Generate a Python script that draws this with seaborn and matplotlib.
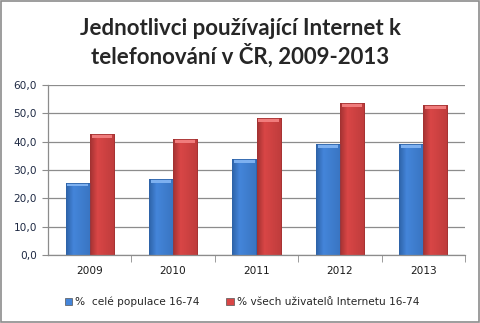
import matplotlib
matplotlib.use("Agg")
import matplotlib.pyplot as plt
import seaborn as sns
import pandas as pd
import numpy as np
from matplotlib.patches import Rectangle
from matplotlib.ticker import MultipleLocator, FixedLocator
from matplotlib.colors import to_rgb

years = ["2009", "2010", "2011", "2012", "2013"]
series_names = ["%  celé populace 16-74", "% všech uživatelů Internetu 16-74"]
pop_values = [25.5, 26.7, 33.8, 39.1, 39.1]
users_values = [42.6, 40.8, 48.2, 53.5, 52.8]
title = "Jednotlivci používající Internet k\ntelefonování v ČR, 2009-2013"

df = pd.DataFrame({
    "year": years * 2,
    "series": [series_names[0]] * len(years) + [series_names[1]] * len(years),
    "value": pop_values + users_values,
})

sns.set_style("white")
plt.rcParams["font.family"] = ["DejaVu Sans"]

fig = plt.figure(figsize=(4.81, 3.23), dpi=100)
ax = fig.add_axes([48 / 481, 1 - 255 / 323, (465 - 48) / 481, (255 - 85) / 323])

base_cols = ["#4485DA", "#D94646"]
dark_cols = ["#2E63A8", "#A33232"]
light_cols = ["#7DB0F0", "#F07C7C"]
palette = dict(zip(series_names, base_cols))
sns.barplot(data=df, x="year", y="value", hue="series", order=years,
            hue_order=series_names, palette=palette, width=0.58, gap=0,
            saturation=1, ax=ax, legend=True, edgecolor="none")

# bevel-like shading inside each bar
for i, cont in enumerate(ax.containers):
    d = np.array(to_rgb(dark_cols[i]))
    b = np.array(to_rgb(base_cols[i]))
    t = np.linspace(0, 1, 40)
    prof = np.where(t < 0.3, t / 0.3, 1 - 0.5 * (t - 0.3) / 0.7)
    grad = d[None, :] + (b - d)[None, :] * prof[:, None]
    img = np.tile(grad[None, :, :], (2, 1, 1))
    for bar in cont:
        x0, w, h = bar.get_x(), bar.get_width(), bar.get_height()
        im = ax.imshow(img, extent=(x0, x0 + w, 0, h), aspect="auto",
                       zorder=bar.get_zorder() + 0.1, interpolation="bilinear")
        im.set_clip_path(bar)
        cap_h = 1.2
        ax.add_patch(Rectangle((x0 + w * 0.08, h - cap_h), w * 0.84, cap_h,
                               facecolor=light_cols[i], edgecolor="none",
                               zorder=bar.get_zorder() + 0.2))
        bar.set_edgecolor(dark_cols[i])
        bar.set_linewidth(0.6)
        bar.set_zorder(bar.get_zorder() + 0.3)
        bar.set_facecolor("none")

ax.set_ylim(0, 60)
ax.set_xlim(-0.5, 4.5)
ax.yaxis.set_major_locator(MultipleLocator(10))
ax.set_yticklabels([f"{v:.1f}".replace(".", ",") for v in ax.get_yticks()])
ax.grid(axis="y", color="#8C8C8C", linewidth=0.9)
ax.set_axisbelow(True)
ax.set_xlabel("")
ax.set_ylabel("")

for s in ["top", "right"]:
    ax.spines[s].set_visible(False)
for s in ["left", "bottom"]:
    ax.spines[s].set_color("#8C8C8C")
    ax.spines[s].set_linewidth(0.9)

ax.tick_params(axis="y", which="major", length=4, color="#8C8C8C", labelsize=7.6,
               labelcolor="#1F2A44", pad=4, left=True)
ax.tick_params(axis="x", which="major", length=0, labelsize=7.6, labelcolor="#1A1A1A", pad=8)
ax.xaxis.set_minor_locator(FixedLocator([0.5, 1.5, 2.5, 3.5, 4.5]))
ax.tick_params(axis="x", which="minor", length=5, color="#8C8C8C", bottom=True)

leg = ax.legend(loc="center", frameon=False,
                ncol=2, fontsize=7.6, handlelength=0.7, handleheight=0.7,
                handletextpad=0.3, columnspacing=2.5)
leg.set_bbox_to_anchor((242 / 481, 1 - 302 / 323), transform=fig.transFigure)
for h, c in zip(leg.legend_handles, base_cols):
    h.set_facecolor(c)
    h.set_edgecolor("#555555")
    h.set_linewidth(0.5)

fig.text(0.5, 1 - 43 / 323, title, ha="center", va="center", fontsize=16,
         fontweight="bold", family=["Lato", "DejaVu Sans"], linespacing=1.2)

fig.patches.append(Rectangle((0.002, 0.003), 0.994, 0.994, transform=fig.transFigure,
                             fill=False, edgecolor="#8C8C8C", linewidth=1.2))

fig.savefig("out.png", dpi=100)
